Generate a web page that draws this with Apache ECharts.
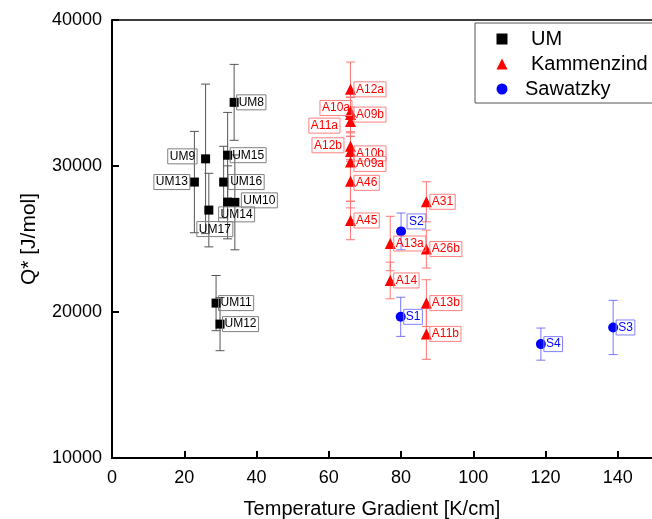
<!DOCTYPE html>
<html>
<head>
<meta charset="utf-8">
<script src="https://cdn.jsdelivr.net/npm/echarts@6/dist/echarts.min.js"></script>
<style>
  html, body { margin: 0; padding: 0; background: #fff; }
  #chart { width: 652px; height: 519px; }
</style>
</head>
<body>
<div id="chart"></div>
<script>
// UM samples
const umNames = ['UM8', 'UM9', 'UM13', 'UM17', 'UM15', 'UM16', 'UM14', 'UM10', 'UM11', 'UM12'];
const umX = [33.8, 25.9, 22.8, 26.8, 32.0, 30.9, 32.0, 34.0, 28.8, 29.9];
const umY = [34360, 30490, 28900, 26980, 30740, 28900, 27510, 27510, 20610, 19170];
const umErr = [2600, 5120, 3470, 2520, 2930, 2450, 2500, 3250, 1890, 1820];

// Kammenzind samples
const kaNames = ['A12a', 'A10a', 'A09b', 'A11a', 'A12b', 'A10b', 'A09a', 'A46', 'A45',
  'A13a', 'A14', 'A31', 'A26b', 'A13b', 'A11b'];
const kaX = [66, 66, 66, 66, 66, 66, 66, 66, 66, 77, 77, 87, 87, 87, 87];
const kaY = [35250, 33730, 33520, 33040, 31350, 31000, 30280, 28950, 26270,
  24690, 22160, 27550, 24310, 20610, 18500];
const kaErr = [1870, 1000, 1170, 1000, 920, 1030, 3150, 1370, 1320,
  1865, 1255, 1370, 1300, 1600, 1740];

// Sawatzky samples
const saNames = ['S2', 'S1', 'S4', 'S3'];
const saX = [80.0, 79.9, 118.7, 138.7];
const saY = [25520, 19670, 17800, 18940];
const saErr = [1260, 1340, 1100, 1860];

const xTicks = { min: 0, max: 150, interval: 20 };
const yTicks = { min: 10000, max: 40000, interval: 10000 };

// label placement: [position, distance, offsetX, offsetY]
const labelPlace = {
  UM9: ['left', 4, 0, -2.5],
  UM13: ['left', 0, 0, 0],
  UM16: ['right', 0, 0, 0],
  UM10: ['right', 2, 0, -2],
  UM14: ['bottom', 0, 9, 0],
  UM17: ['bottom', 7, 6, 0],
  A10a: ['left', -7, 0, -3.5],
  A11a: ['left', 5, 0, 4],
  A12b: ['left', 1, 0, -1],
  A10b: ['right', -2, 0, 2],
  A09a: ['right', -2, 0, 2],
  A46: ['right', -2, 0, 1.5],
  S2: ['right', 1, 0, -10],
};

const FONT = '"Liberation Sans", Arial, sans-serif';

const placeLabel = (name) => {
  const p = labelPlace[name] || ['right', -2, 0, 0];
  return { position: p[0], distance: p[1], offset: [p[2], p[3]] };
};

const toPoints = (names, xs, ys) =>
  names.map((n, i) => ({ name: n, value: [xs[i], ys[i]], label: placeLabel(n) }));

const toErr = (xs, ys, es) => xs.map((x, i) => [x, ys[i], es[i]]);

const errorSeries = (name, data, color) => ({
  type: 'custom',
  name,
  data,
  silent: true,
  z: 1,
  encode: { x: 0, y: 1 },
  renderItem: (params, api) => {
    const x = api.value(0);
    const y = api.value(1);
    const e = api.value(2);
    const top = api.coord([x, y + e]);
    const bot = api.coord([x, y - e]);
    const hw = 4.5;
    const style = { stroke: color, lineWidth: 1 };
    return {
      type: 'group',
      children: [
        { type: 'line', shape: { x1: top[0], y1: top[1], x2: bot[0], y2: bot[1] }, style },
        { type: 'line', shape: { x1: top[0] - hw, y1: top[1], x2: top[0] + hw, y2: top[1] }, style },
        { type: 'line', shape: { x1: bot[0] - hw, y1: bot[1], x2: bot[0] + hw, y2: bot[1] }, style },
      ],
    };
  },
});

const pointLabel = (textColor, borderColor) => ({
  show: true,
  formatter: '{b}',
  color: textColor,
  fontFamily: FONT,
  fontSize: 12,
  borderColor,
  borderWidth: 1,
  padding: [2, 2, 1, 2],
});

const chart = echarts.init(document.getElementById('chart'), null, { renderer: 'canvas' });

chart.setOption({
  animation: false,
  backgroundColor: '#fff',
  textStyle: { fontFamily: FONT },
  grid: { left: 112, top: 20, width: 542, bottom: 61, outerBoundsMode: 'none', containLabel: false },
  legend: {
    orient: 'vertical',
    left: 475,
    top: 23,
    data: [
      { name: 'UM' },
      { name: 'Kammenzind' },
      { name: 'Sawatzky', textStyle: { padding: [0, 0, 0, 12.5] } },
    ],
    itemWidth: 11,
    itemHeight: 11,
    itemGap: 5,
    padding: [6, 20, 4, 21.5],
    borderColor: '#555',
    borderWidth: 1,
    textStyle: { color: '#000', fontSize: 20, fontFamily: FONT, padding: [0, 0, 0, 18.5] },
  },
  xAxis: [
    {
      type: 'value',
      min: xTicks.min,
      max: xTicks.max,
      interval: xTicks.interval,
      name: 'Temperature Gradient [K/cm]',
      nameLocation: 'middle',
      nameGap: 41,
      nameTextStyle: { color: '#000', fontSize: 20, fontFamily: FONT, padding: [0, 22, 0, 0] },
      axisLine: { onZero: false, lineStyle: { color: '#000', width: 2 } },
      axisTick: { inside: true, length: 7, lineStyle: { color: '#000', width: 2 } },
      axisLabel: { color: '#000', fontSize: 18, margin: 11, showMaxLabel: false },
      splitLine: { show: false },
    },
    {
      type: 'value',
      position: 'top',
      min: xTicks.min,
      max: xTicks.max,
      axisLine: { onZero: false, lineStyle: { color: '#000', width: 1.5 } },
      axisTick: { show: false },
      axisLabel: { show: false },
      splitLine: { show: false },
    },
  ],
  yAxis: {
    type: 'value',
    min: yTicks.min,
    max: yTicks.max,
    interval: yTicks.interval,
    name: 'Q* [J/mol]',
    nameLocation: 'middle',
    nameGap: 72,
    nameTextStyle: { color: '#000', fontSize: 21, fontFamily: FONT },
    axisLine: { show: true, onZero: false, lineStyle: { color: '#000', width: 2 } },
    axisTick: { show: true, inside: true, length: 7, lineStyle: { color: '#000', width: 2 } },
    axisLabel: { color: '#000', fontSize: 18, margin: 10, formatter: (v) => String(v) },
    splitLine: { show: false },
  },
  series: [
    errorSeries('UM err', toErr(umX, umY, umErr), '#555'),
    {
      type: 'scatter',
      name: 'UM',
      symbol: 'rect',
      symbolSize: 9,
      z: 3,
      itemStyle: { color: '#000', opacity: 1 },
      label: pointLabel('#000', '#808080'),
      data: toPoints(umNames, umX, umY),
    },
    errorSeries('Kammenzind err', toErr(kaX, kaY, kaErr), '#ff7575'),
    {
      type: 'scatter',
      name: 'Kammenzind',
      symbol: 'triangle',
      symbolSize: 11,
      z: 3,
      itemStyle: { color: '#ff0000', opacity: 1 },
      label: pointLabel('#ff0000', '#ff8080'),
      data: toPoints(kaNames, kaX, kaY),
    },
    errorSeries('Sawatzky err', toErr(saX, saY, saErr), '#7575ff'),
    {
      type: 'scatter',
      name: 'Sawatzky',
      symbol: 'circle',
      symbolSize: 10,
      z: 3,
      itemStyle: { color: '#0000ff', opacity: 1 },
      label: pointLabel('#0000ff', '#8080ff'),
      data: toPoints(saNames, saX, saY),
    },
  ],
});
</script>
</body>
</html>
